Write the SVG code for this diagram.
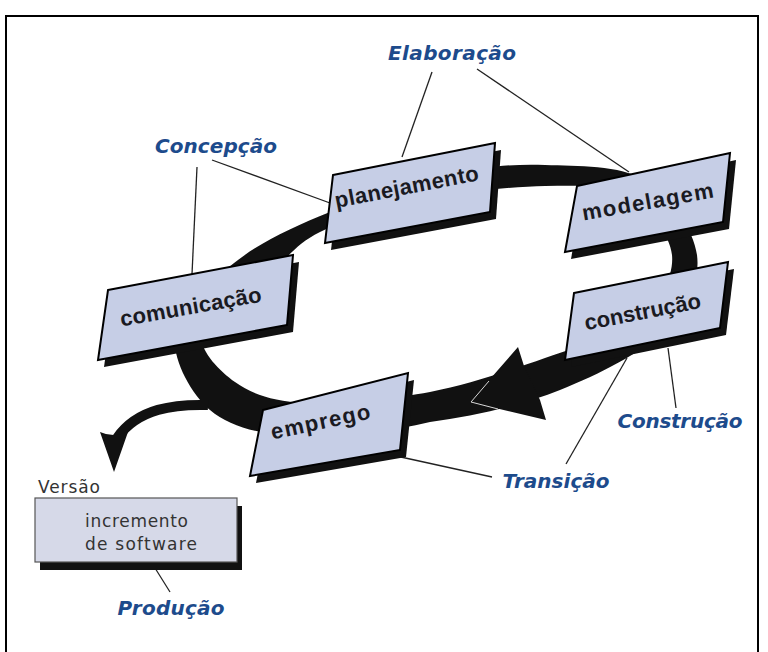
<svg xmlns="http://www.w3.org/2000/svg" width="768" height="652" viewBox="0 0 768 652">
<style>
.frame{fill:none;stroke:#000;stroke-width:2}
.ring{fill:#111}
.conn line{stroke:#222;stroke-width:1.3}
.box{fill:#c6cee6;stroke:#000;stroke-width:2;stroke-linejoin:miter}
.shadow{fill:#111}
.bt{font-family:"Liberation Sans",Arial,sans-serif;font-weight:bold;font-size:22px;fill:#1a1a22;text-anchor:middle}
.lbl{font-family:"DejaVu Sans",Verdana,sans-serif;font-weight:bold;font-style:oblique;font-size:20px;fill:#1d4b8c;text-anchor:middle}
.pt{font-family:"DejaVu Sans",Verdana,sans-serif;font-size:17px;fill:#333}
</style>
<rect width="768" height="652" fill="#fff"/>
<path class="frame" d="M6,652 V16 H758 V652"/>

<g id="cycle">
<path class="ring" fill-rule="evenodd" d="M175,330 C179.7,305 212.2,279.7 238,260 C263.8,240.3 294.7,226.3 330,212 C365.3,197.7 414.2,181.8 450,174 C485.8,166.2 512.5,164 545,165 C577.5,166 619.7,165 645,180 C670.3,195 693.7,230 697,255 C700.3,280 687.8,307.5 665,330 C642.2,352.5 599.2,374.3 560,390 C520.8,405.7 473.3,416.2 430,422 C386.7,431.8 336.7,439.3 300,437 C263.3,434.7 230.8,427.8 210,410 C189.2,392.2 170.3,355 175,330 Z M202,330 C207.5,312.2 248.3,291.3 268,275 C287.7,258.7 294.7,244.5 320,232 C345.3,219.5 382.5,207.7 420,200 C457.5,192.3 510.3,186.7 545,186 C579.7,185.3 606.8,184.5 628,196 C649.2,207.5 670,234.7 672,255 C674,275.3 661.2,300.8 640,318 C618.8,335.2 580,345.7 545,358 C510,370.3 470,384.5 430,392 C390,399.5 337.5,404.7 305,403 C272.5,401.2 252.2,394.2 235,382 C217.8,369.8 196.5,347.8 202,330 Z"/>
<path d="M470,402 L518,347 L524,366 L540,400 L546,420 Z" fill="#111"/>
<polyline points="489,381 471,402 498,409" fill="none" stroke="#d8d8d8" stroke-width="1"/>
<path d="M208,405 C175,404 138,408 117,438" fill="none" stroke="#111" stroke-width="10"/>
<path d="M100,432 Q113,438 128,432 L114,472 Z" fill="#111"/>
</g>

<g id="connectors" class="conn">
<line x1="432" y1="72" x2="402" y2="157"/>
<line x1="477" y1="69" x2="629" y2="172"/>
<line x1="197" y1="167" x2="192" y2="274"/>
<line x1="212" y1="160" x2="330" y2="203"/>
<line x1="668" y1="348" x2="676" y2="408"/>
<line x1="627" y1="358" x2="566" y2="464"/>
<line x1="378" y1="452" x2="492" y2="477"/>
<line x1="155" y1="568" x2="170" y2="592"/>
</g>

<g id="comunicacao">
<polygon class="shadow" points="114,297 299,262 293,332 104,367"/>
<polygon class="box" points="108,290 293,255 287,325 98,360"/>
<text class="bt" x="192" y="314" textLength="143" lengthAdjust="spacing" transform="rotate(-10 192 314)">comunicação</text>
</g>

<g id="planejamento">
<polygon class="shadow" points="339,182 501,150 496,219 331,250"/>
<polygon class="box" points="333,175 495,143 490,212 325,243"/>
<text class="bt" x="408" y="194" textLength="146" lengthAdjust="spacing" transform="rotate(-11 408 194)">planejamento</text>
</g>

<g id="modelagem">
<polygon class="shadow" points="583,193 736,160 729,229 571,259"/>
<polygon class="box" points="577,186 730,153 723,222 565,252"/>
<text class="bt" x="649" y="209" textLength="133" lengthAdjust="spacing" transform="rotate(-10 649 209)">modelagem</text>
</g>

<g id="construcao">
<polygon class="shadow" points="580,300 734,269 726,335 571,367"/>
<polygon class="box" points="574,293 728,262 720,328 565,360"/>
<text class="bt" x="644" y="319" textLength="118" lengthAdjust="spacing" transform="rotate(-11 644 319)">construção</text>
</g>

<g id="emprego">
<polygon class="shadow" points="269,417 414,380 406,457 256,483"/>
<polygon class="box" points="263,410 408,373 400,450 250,476"/>
<text class="bt" x="322" y="429" textLength="101" lengthAdjust="spacing" transform="rotate(-12 322 429)">emprego</text>
</g>

<g id="incremento">
<text class="pt" x="38" y="493" textLength="62" lengthAdjust="spacing">Versão</text>
<rect x="40" y="506" width="202" height="64" fill="#111"/>
<rect x="35" y="498" width="202" height="64" fill="#d6d9e8" stroke="#555" stroke-width="1.2"/>
<text class="pt" x="85" y="527" textLength="103" lengthAdjust="spacing">incremento</text>
<text class="pt" x="85" y="550" textLength="112" lengthAdjust="spacing">de software</text>
</g>

<g id="labels">
<text id="elaboracao" class="lbl" x="452" y="60" textLength="128" lengthAdjust="spacing">Elaboração</text>
<text id="concepcao" class="lbl" x="216" y="153" textLength="122" lengthAdjust="spacing">Concepção</text>
<text id="construcao-fase" class="lbl" x="680" y="428" textLength="125" lengthAdjust="spacing">Construção</text>
<text id="transicao" class="lbl" x="556" y="488" textLength="107" lengthAdjust="spacing">Transição</text>
<text id="producao" class="lbl" x="171" y="615" textLength="107" lengthAdjust="spacing">Produção</text>
</g>
</svg>
